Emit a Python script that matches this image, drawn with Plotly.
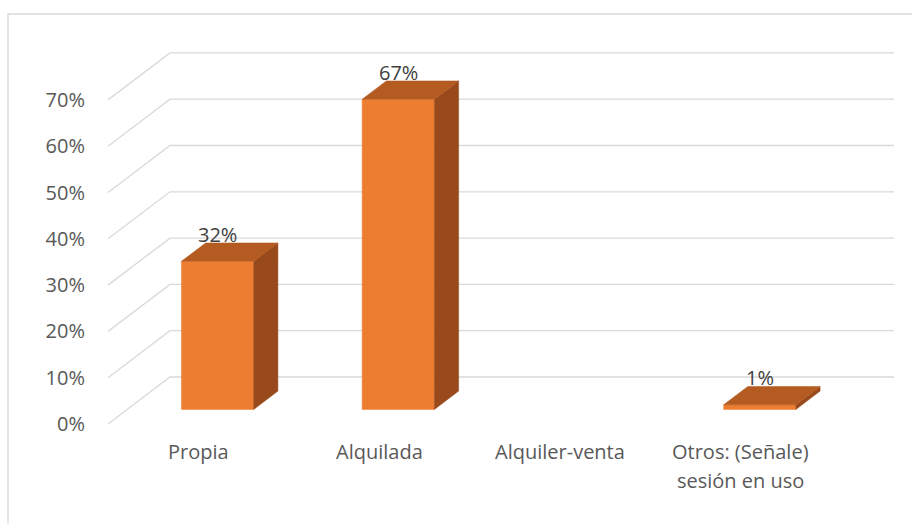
import plotly.graph_objects as go

# Tenencia de la vivienda (porcentaje)
categories = ["Propia", "Alquilada", "Alquiler-venta", "Otros: (Señale)<br>sesión en uso"]
values = [32, 67, None, 1]
tick_values = [0, 10, 20, 30, 40, 50, 60, 70]
tick_labels = ["0%", "10%", "20%", "30%", "40%", "50%", "60%", "70%"]

# 3D projection parameters (in axis units)
DEPTH_X = 0.343      # horizontal shift of the back wall, category units
DEPTH_Y = 10.15      # vertical shift of the back wall, percent units
Z_FRONT = 0.31       # bar front position inside the depth
Z_BACK = 0.70        # bar back position inside the depth
BAR_HALF = 0.2       # half bar width, category units
X_MAX = 4.349
Y_MAX = 80.35

FRONT = "#ED7D31"
TOP = "#B45B22"
SIDE = "#984A1C"
GRID = "#D9D9D9"
FONT = "Open Sans"
FONT_SIZE = 20
LINE_GAP = 29        # px between lines of a category label

fig = go.Figure()

# Gridlines: diagonal on the side wall then horizontal along the back wall
gx, gy = [], []
for v in tick_values:
    gx += [0, DEPTH_X, X_MAX, None]
    gy += [v, v + DEPTH_Y, v + DEPTH_Y, None]
fig.add_trace(go.Scatter(x=gx, y=gy, mode="lines",
                         line=dict(color=GRID, width=1.3),
                         hoverinfo="skip", showlegend=False))

annotations = []
ddx = (Z_BACK - Z_FRONT) * DEPTH_X
ddy = (Z_BACK - Z_FRONT) * DEPTH_Y
for i, (cat, v) in enumerate(zip(categories, values)):
    c = i + 0.5
    for k, line in enumerate(cat.split("<br>")):
        annotations.append(dict(x=c, y=0, xref="x", yref="y", text=line,
                                showarrow=False, yanchor="top", yshift=-12 - k * LINE_GAP,
                                font=dict(family=FONT, size=FONT_SIZE, color="#595959")))
    if v is None:
        continue
    x0 = c - BAR_HALF + Z_FRONT * DEPTH_X
    x1 = c + BAR_HALF + Z_FRONT * DEPTH_X
    yb = Z_FRONT * DEPTH_Y
    yt = yb + v
    # front face
    fig.add_trace(go.Scatter(x=[x0, x1, x1, x0, x0], y=[yb, yb, yt, yt, yb],
                             fill="toself", fillcolor=FRONT, mode="lines",
                             line=dict(color=FRONT, width=0.5),
                             hoverinfo="skip", showlegend=False))
    # side face
    fig.add_trace(go.Scatter(x=[x1, x1 + ddx, x1 + ddx, x1, x1],
                             y=[yb, yb + ddy, yt + ddy, yt, yb],
                             fill="toself", fillcolor=SIDE, mode="lines",
                             line=dict(color=SIDE, width=0.5),
                             hoverinfo="skip", showlegend=False))
    # top face
    fig.add_trace(go.Scatter(x=[x0, x1, x1 + ddx, x0 + ddx, x0],
                             y=[yt, yt, yt + ddy, yt + ddy, yt],
                             fill="toself", fillcolor=TOP, mode="lines",
                             line=dict(color=TOP, width=0.5),
                             hoverinfo="skip", showlegend=False))
    annotations.append(dict(x=c + Z_FRONT * DEPTH_X, y=yt + ddy, xref="x", yref="y",
                            text=f"{v}%", showarrow=False, yanchor="bottom", yshift=-7,
                            font=dict(family=FONT, size=FONT_SIZE, color="#404040")))

fig.update_layout(
    width=912, height=524, autosize=False,
    margin=dict(l=108, r=18, t=52, b=100, pad=0),
    paper_bgcolor="white", plot_bgcolor="white",
    showlegend=False,
    xaxis=dict(range=[0, X_MAX], visible=False, fixedrange=True),
    yaxis=dict(range=[0, Y_MAX], tickvals=tick_values, ticktext=tick_labels,
               showgrid=False, zeroline=False, showline=False, ticks="",
               ticklabelstandoff=22,
               tickfont=dict(family=FONT, size=FONT_SIZE, color="#595959"),
               fixedrange=True),
    annotations=annotations,
    shapes=[dict(type="rect", xref="paper", yref="paper",
                 x0=(8 - 108) / 786, x1=(914 - 108) / 786,
                 y0=(424 - 526) / 372, y1=(424 - 14) / 372,
                 line=dict(color=GRID, width=1.3), fillcolor="rgba(0,0,0,0)",
                 layer="below")],
)

fig.write_html("out.html")
